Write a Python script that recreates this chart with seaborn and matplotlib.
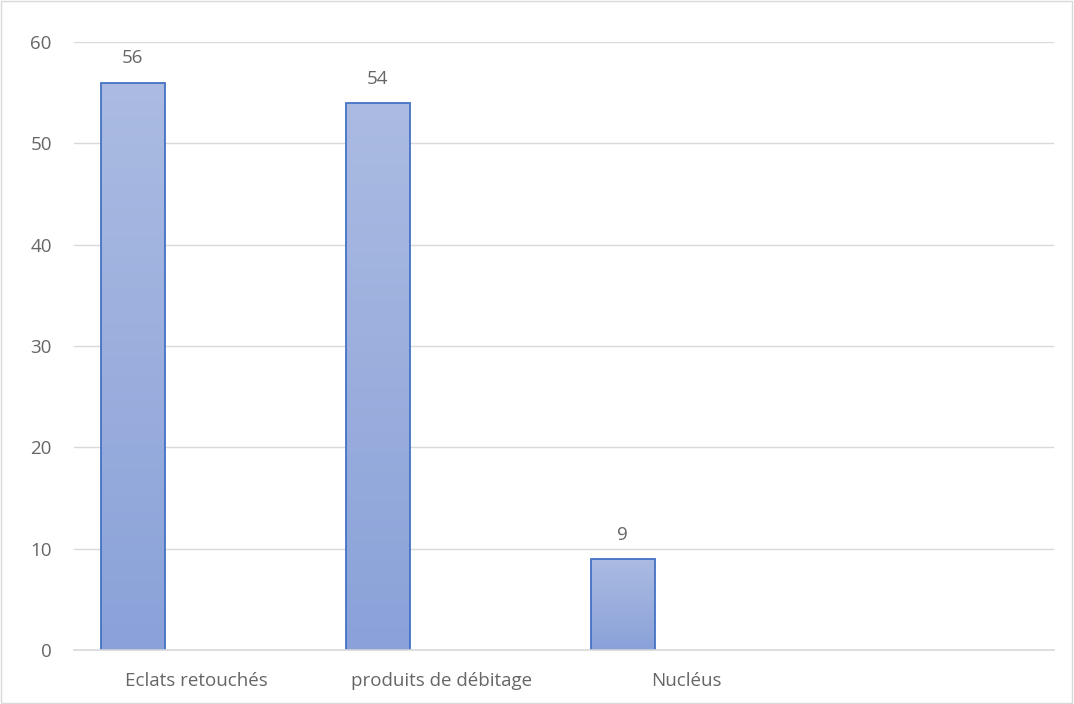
import numpy as np
import pandas as pd
import matplotlib
matplotlib.use("Agg")
import matplotlib.pyplot as plt
from matplotlib.colors import LinearSegmentedColormap
import seaborn as sns

categories = ["Eclats retouchés", "produits de débitage", "Nucléus", " "]
series_names = ["Série1", "Série2", "Série3"]
serie1 = [56, 54, 9, np.nan]
serie2 = [np.nan, np.nan, np.nan, np.nan]
serie3 = [np.nan, np.nan, np.nan, np.nan]

rows = []
for name, vals in zip(series_names, [serie1, serie2, serie3]):
    for cat, v in zip(categories, vals):
        rows.append({"cat": cat, "serie": name, "val": v})
df = pd.DataFrame(rows)

sns.set_style("white")
plt.rcParams["font.family"] = ["Open Sans", "DejaVu Sans"]
gris = "#666666"

fig = plt.figure(figsize=(10.74, 7.04), dpi=100)
ax = fig.add_axes([74 / 1074, 1 - 650 / 704, 980 / 1074, 608 / 704])

sns.barplot(data=df, x="cat", y="val", hue="serie", order=categories,
            hue_order=series_names, width=0.78, ax=ax, legend=False,
            color="#98acdc", edgecolor="#4472c4", linewidth=1.3, errorbar=None)

# degradé vertical dans chaque barre
cmap = LinearSegmentedColormap.from_list("deg", ["#8aa2d9", "#abbbe2"])
grad = np.linspace(0, 1, 256).reshape(-1, 1)
for p in list(ax.patches):
    h = p.get_height()
    if not np.isfinite(h) or h == 0:
        continue
    x0 = p.get_x()
    w = p.get_width()
    im = ax.imshow(grad, cmap=cmap, aspect="auto", origin="lower",
                   extent=[x0, x0 + w, 0, h], zorder=p.get_zorder() - 0.1)
    im.set_clip_path(p)
    p.set_facecolor("none")
    ax.annotate(f"{int(h)}", (x0 + w / 2, h), xytext=(0, 11),
                textcoords="offset points", ha="center", va="bottom",
                fontsize=13.5, color=gris)

ax.set_xlim(-0.5, 3.5)
ax.set_ylim(0, 60)
ax.set_yticks(range(0, 61, 10))
ax.yaxis.grid(True, color="#d9d9d9", linewidth=1)
ax.set_axisbelow(True)
for s in ["top", "right", "left"]:
    ax.spines[s].set_visible(False)
ax.spines["bottom"].set_color("#d9d9d9")
ax.spines["bottom"].set_linewidth(1.2)
ax.tick_params(axis="both", length=0, labelsize=13.5, labelcolor=gris)
ax.tick_params(axis="x", pad=16)
ax.tick_params(axis="y", pad=16)
ax.set_xlabel("")
ax.set_ylabel("")

fig.patches.append(plt.Rectangle((0.001, 0.001), 0.997, 0.997, transform=fig.transFigure,
                                 fill=False, edgecolor="#d9d9d9", linewidth=1))
fig.savefig("out.png", dpi=100)
